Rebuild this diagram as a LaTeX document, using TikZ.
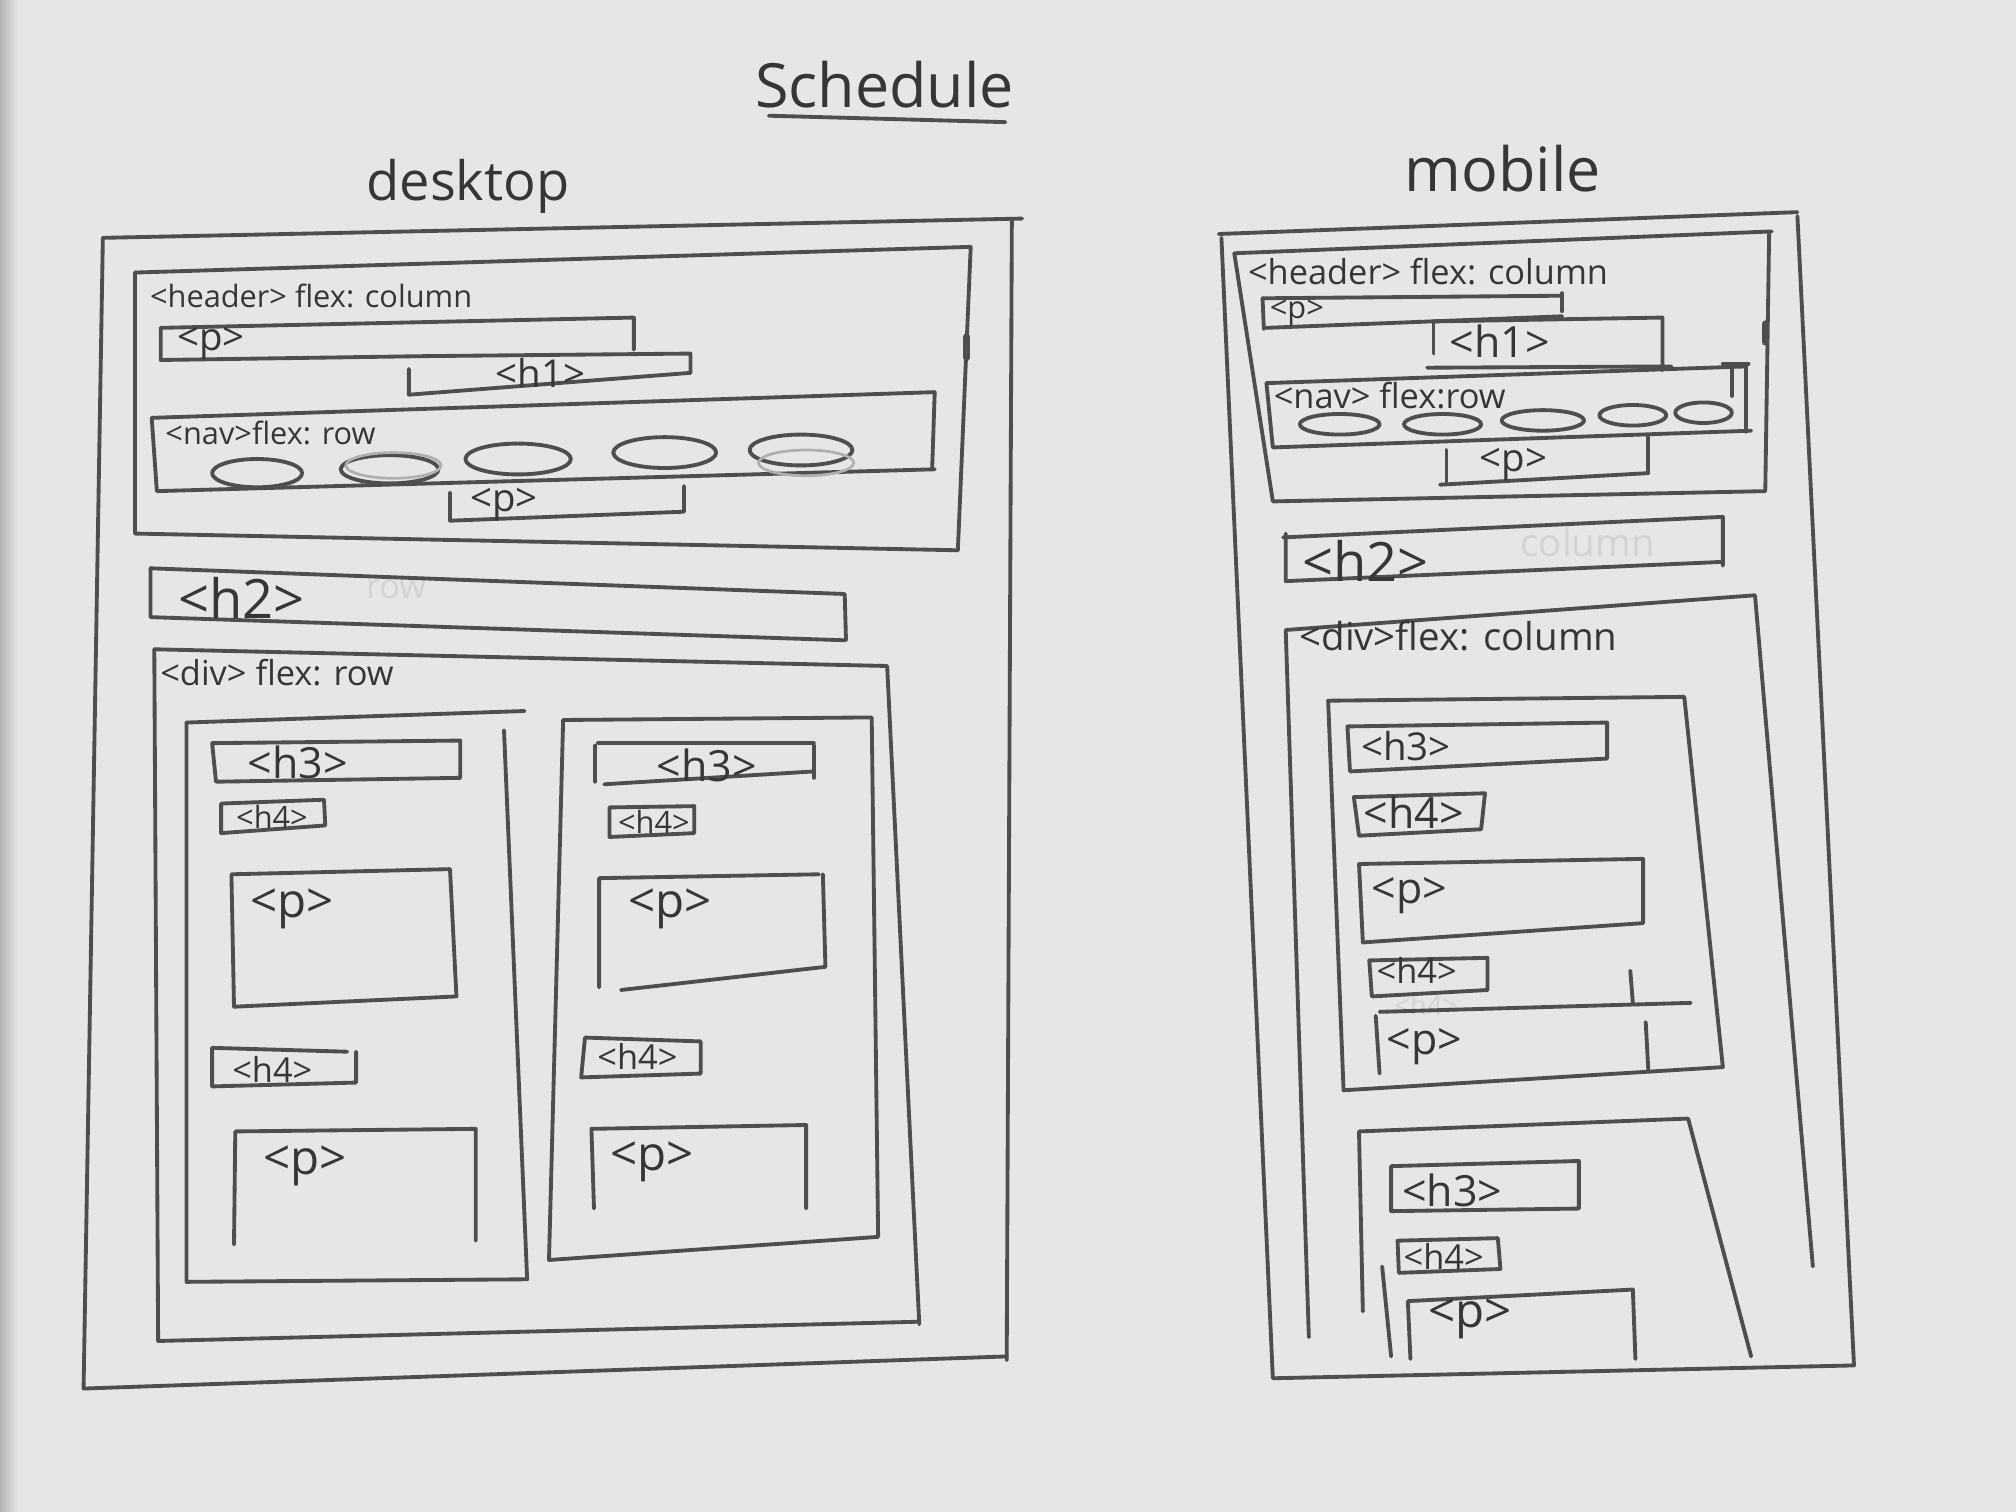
\documentclass[tikz,border=0pt]{standalone}
\usepackage{fontspec}
\setmainfont{Open Sans}
\begin{document}
\begin{tikzpicture}[x=0.01cm,y=-0.01cm,
  pen/.style={draw=pencil,line width=0.85pt,line cap=round,line join=round},
  faintpen/.style={draw=pencil!45,line width=0.6pt,line cap=round},
  tag/.style={inner sep=0pt,anchor=west,text=ink},
  ghost/.style={inner sep=0pt,anchor=west,text=ink!22},
  s5/.style={font=\fontsize{6}{7}\selectfont},
  s6/.style={font=\fontsize{6.8}{8}\selectfont},
  s7/.style={font=\fontsize{7.6}{9}\selectfont},
  s8/.style={font=\fontsize{8.5}{10}\selectfont},
  s9/.style={font=\fontsize{9.5}{11}\selectfont},
  s10/.style={font=\fontsize{10.5}{12}\selectfont},
  s12/.style={font=\fontsize{12}{14}\selectfont}]
\definecolor{paper}{HTML}{E5E6E8}
\definecolor{pencil}{HTML}{4E4E50}
\definecolor{ink}{HTML}{363638}

% sheet of paper
\useasboundingbox (0,0) rectangle (1568,1176);
\fill[paper] (0,0) rectangle (1568,1176);
\shade[left color=black!30,right color=paper] (0,0) rectangle (14,1176);

% titles
\node[tag,anchor=center,font=\fontsize{13.5}{16}\selectfont] (title) at (688,66) {Schedule};
\draw[pen] (598,90) -- (782,95);
\node[tag,anchor=center,font=\fontsize{12}{14}\selectfont] (desk) at (364,145) {desktop};
\node[tag,anchor=center,font=\fontsize{13.5}{16}\selectfont] (mob) at (1169,131) {mobile};

% ================= desktop =================
\draw[pen] (80,185) -- (795,170);
\draw[pen] (787,172) -- (783,1058);
\draw[pen] (80,185) -- (65,1080) -- (783,1055);

% header
\draw[pen] (105,212) -- (755,192) -- (745,428);
\draw[pen] (105,212) -- (105,415) -- (745,428);
\draw[pen,line width=1.6pt] (752,262) -- (752,278);
\node[tag,s6] (dkhead) at (116,230) {<header> flex: column};
% p
\draw[pen] (125,255) -- (493,247) -- (493,272);
\draw[pen] (125,255) -- (125,280) -- (330,277);
\node[tag,s8] (dkp1) at (137,267) {<p>};
% h1
\draw[pen] (330,277) -- (537,275) -- (537,290);
\draw[pen] (318,287) -- (318,307) -- (537,290);
\node[tag,s8] (dkh1) at (385,290) {<h1>};
% nav
\draw[pen] (118,325) -- (727,305) -- (725,365);
\draw[pen] (118,325) -- (122,382) -- (727,365);
\node[tag,s6] (dknav) at (128,337) {<nav>flex: row};
\draw[pen] (200,368) ellipse [x radius=35,y radius=11];
\draw[pen] (303,365) ellipse [x radius=38,y radius=11];
\draw[faintpen] (306,362) ellipse [x radius=37,y radius=10];
\draw[pen] (403,357) ellipse [x radius=41,y radius=12];
\draw[pen] (517,352) ellipse [x radius=40,y radius=12];
\draw[pen] (623,350) ellipse [x radius=40,y radius=12];
\draw[faintpen] (627,360) ellipse [x radius=37,y radius=10];
% p below nav
\draw[pen] (350,383) -- (350,405) -- (532,398) -- (532,378);
\node[tag,s8] (dkp2) at (365,392) {<p>};

% h2 (with an erased label still showing through)
\node[ghost,s7] (dkghost) at (284,458) {row};
\draw[pen] (117,442) -- (657,462) -- (658,498);
\draw[pen] (117,442) -- (117,480) -- (657,498);
\node[tag,s12] (dkh2) at (138,465) {<h2>};

% div flex row
\draw[pen] (120,505) -- (690,518) -- (715,1030);
\draw[pen] (120,505) -- (123,1043) -- (715,1028);
\node[tag,s7] (dkdiv) at (124,523) {<div> flex: row};

% first card
\draw[pen] (145,562) -- (408,553);
\draw[pen] (392,568) -- (410,995) -- (145,997) -- (145,562);
\draw[pen] (165,578) -- (358,576) -- (358,605) -- (168,608) -- cycle;
\node[tag,s9] (c1h3) at (192,593) {<h3>};
\draw[pen] (172,625) -- (252,622) -- (253,642) -- (172,648) -- cycle;
\node[tag,s6] (c1h4a) at (183,635) {<h4>};
\draw[pen] (180,680) -- (350,676) -- (355,775) -- (182,783) -- cycle;
\node[tag,s10] (c1p1) at (194,707) {<p>};
\draw[pen] (165,815) -- (270,818);
\draw[pen] (165,815) -- (165,845) -- (277,842) -- (277,818);
\node[tag,s7] (c1h4b) at (180,832) {<h4>};
\draw[pen] (182,968) -- (183,880) -- (370,878) -- (370,965);
\node[tag,s10] (c1p2) at (204,907) {<p>};

% second card
\draw[pen] (438,560) -- (678,558) -- (683,962) -- (427,980) -- cycle;
\draw[pen] (463,580) -- (463,608);
\draw[pen] (633,580) -- (633,605);
\draw[pen] (465,578) -- (633,578);
\draw[pen] (470,610) -- (633,600);
\node[tag,s9] (c2h3) at (510,595) {<h3>};
\draw[pen] (474,628) -- (540,627) -- (540,648) -- (474,651) -- cycle;
\node[tag,s6] (c2h4a) at (480,639) {<h4>};
\draw[pen] (466,768) -- (466,683) -- (637,680);
\draw[pen] (640,680) -- (642,752) -- (483,770);
\node[tag,s10] (c2p1) at (488,707) {<p>};
\draw[pen] (455,807) -- (545,810) -- (545,835) -- (452,838) -- cycle;
\node[tag,s7] (c2h4b) at (464,822) {<h4>};
\draw[pen] (462,940) -- (460,878) -- (627,875) -- (627,940);
\node[tag,s10] (c2p2) at (474,904) {<p>};

% ================= mobile =================
\draw[pen] (948,182) -- (1398,165);
\draw[pen] (1398,168) -- (1442,1062) -- (990,1072) -- (950,185);

% header
\draw[pen] (960,197) -- (1378,180);
\draw[pen] (1376,182) -- (1373,382) -- (990,390) -- (960,197);
\draw[pen,line width=1.6pt] (1373,252) -- (1373,266);
\node[tag,s7] (mbhead) at (970,211) {<header> flex: column};
% p
\draw[pen] (982,232) -- (1215,230);
\draw[pen] (1215,228) -- (1215,242);
\draw[pen] (983,256) -- (982,232);
\draw[pen] (985,255) -- (1215,246);
\node[tag,s6] (mbp1) at (987,243) {<p>};
% h1
\draw[pen] (1115,250) -- (1293,247) -- (1293,288);
\draw[pen] (1115,250) -- (1115,275);
\draw[pen] (1110,286) -- (1300,285);
\node[tag,s9] (mbh1) at (1127,265) {<h1>};
% nav
\draw[pen] (985,298) -- (1358,285) -- (1358,336);
\draw[pen] (985,298) -- (990,348) -- (1362,335);
\draw[pen] (1340,283) -- (1360,283);
\draw[pen] (1347,284) -- (1347,308);
\node[tag,s7] (mbnav) at (990,308) {<nav> flex:row};
\draw[pen] (1042,330) ellipse [x radius=31,y radius=8];
\draw[pen] (1122,330) ellipse [x radius=30,y radius=8];
\draw[pen] (1200,327) ellipse [x radius=32,y radius=8];
\draw[pen] (1270,323) ellipse [x radius=26,y radius=8];
\draw[pen] (1325,321) ellipse [x radius=22,y radius=8];
% p below nav
\draw[pen] (1125,350) -- (1125,375);
\draw[pen] (1282,340) -- (1282,368);
\draw[pen] (1120,377) -- (1282,368);
\node[tag,s8] (mbp2) at (1150,361) {<p>};

% h2 (with an erased label still showing through)
\node[ghost,s8] (mbghost) at (1182,422) {column};
\draw[pen] (998,418) -- (1340,402) -- (1340,440);
\draw[pen] (1000,415) -- (1000,452) -- (1340,437);
\node[tag,s12] (mbh2) at (1012,436) {<h2>};

% div flex column
\draw[pen] (1018,1040) -- (1000,490) -- (1365,463) -- (1410,985);
\node[tag,s8] (mbdiv) at (1010,495) {<div>flex: column};

% first card
\draw[pen] (1033,545) -- (1310,542) -- (1340,830) -- (1045,848) -- cycle;
\draw[pen] (1048,565) -- (1250,562) -- (1250,590) -- (1050,600) -- cycle;
\node[tag,s8] (m1h3) at (1058,580) {<h3>};
\draw[pen] (1053,620) -- (1155,617) -- (1152,645) -- (1057,650) -- cycle;
\node[tag,s9] (m1h4a) at (1060,632) {<h4>};
\draw[pen] (1057,672) -- (1278,668) -- (1278,718) -- (1060,733) -- cycle;
\node[tag,s9] (m1p1) at (1066,697) {<p>};
\node[ghost,s5] (m1ghost) at (1084,782) {<h4>};
\draw[pen] (1065,747) -- (1157,745) -- (1157,770) -- (1067,775) -- cycle;
\node[tag,s7] (m1h4b) at (1070,755) {<h4>};
\draw[pen] (1268,755) -- (1270,780);
\draw[pen] (1073,787) -- (1315,780);
\draw[pen] (1070,790) -- (1073,835);
\draw[pen] (1280,795) -- (1282,832);
\node[tag,s9] (m1p2) at (1078,814) {<p>};

% second card
\draw[pen] (1060,1020) -- (1057,880) -- (1313,870) -- (1362,1055);
\draw[pen] (1082,907) -- (1228,903) -- (1228,940) -- (1082,942) -- cycle;
\node[tag,s9] (m2h3) at (1090,926) {<h3>};
\draw[pen] (1087,965) -- (1165,963) -- (1167,987) -- (1088,990) -- cycle;
\node[tag,s7] (m2h4) at (1091,977) {<h4>};
\draw[pen] (1075,985) -- (1082,1055);
\draw[pen] (1097,1057) -- (1095,1012) -- (1270,1003) -- (1272,1057);
\node[tag,s10] (m2p) at (1110,1026) {<p>};
\end{tikzpicture}
\end{document}
